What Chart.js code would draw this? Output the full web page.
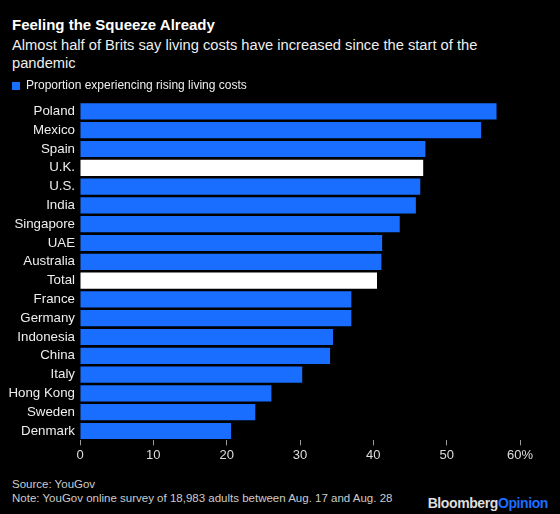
<!DOCTYPE html>
<html>
<head>
<meta charset="utf-8">
<script src="https://cdn.jsdelivr.net/npm/chart.js@4"></script>
<style>
  body { margin: 0; background: #000; width: 560px; height: 514px; overflow: hidden; font-family: "Liberation Sans", Arial, sans-serif; color: #fff; position: relative; }
  #titre { position: absolute; left: 12px; top: 16px; font-size: 15px; font-weight: bold; }
  #sousTitre { position: absolute; left: 12px; top: 36px; width: 530px; font-size: 14.7px; line-height: 18px; color: #eee; }
  #zone { position: absolute; left: 0; top: 75px; width: 560px; height: 390px; }
  #source { position: absolute; left: 12px; top: 478px; font-size: 11.5px; line-height: 13.5px; color: #ccc; }
  #logo { position: absolute; right: 12px; top: 495px; font-size: 14px; font-weight: bold; letter-spacing: -0.4px; color: #ddd; }
  #logo span { color: #1a6eff; }
</style>
</head>
<body>
<div id="titre">Feeling the Squeeze Already</div>
<div id="sousTitre">Almost half of Brits say living costs have increased since the start of the pandemic</div>
<div id="zone"><canvas id="graphique"></canvas></div>
<div id="source">Source: YouGov<br>Note: YouGov online survey of 18,983 adults between Aug. 17 and Aug. 28</div>
<div id="logo">Bloomberg<span>Opinion</span></div>
<script>
const pays = ['Poland', 'Mexico', 'Spain', 'U.K.', 'U.S.', 'India', 'Singapore', 'UAE', 'Australia', 'Total',
  'France', 'Germany', 'Indonesia', 'China', 'Italy', 'Hong Kong', 'Sweden', 'Denmark'];
const proportions = [56.8, 54.7, 47.1, 46.8, 46.4, 45.8, 43.6, 41.2, 41.1, 40.5,
  37.0, 37.0, 34.5, 34.1, 30.3, 26.1, 23.9, 20.6];
const ticksX = [0, 10, 20, 30, 40, 50, 60];
const nomSerie = 'Proportion experiencing rising living costs';

const bleu = '#1a6eff';
const couleurs = pays.map(p => (p === 'U.K.' || p === 'Total') ? '#ffffff' : bleu);

const ctx = document.getElementById('graphique').getContext('2d');

const graphique = new Chart(ctx, {
  type: 'bar',
  data: {
    labels: pays,
    datasets: [
      {
        label: nomSerie,
        data: proportions,
        backgroundColor: couleurs,
        borderWidth: 0,
        barPercentage: 0.86,
        categoryPercentage: 1,
      },
    ],
  },
  options: {
    indexAxis: 'y',
    responsive: true,
    maintainAspectRatio: false,
    animation: false,
    layout: { padding: { left: 7, right: 40, top: 0, bottom: 0 } },
    plugins: {
      tooltip: { enabled: false },
      legend: {
        align: 'start',
        labels: {
          color: '#eee',
          font: { family: 'Liberation Sans', size: 12 },
          boxWidth: 8,
          boxHeight: 8,
          padding: 5,
          generateLabels: () => [{ text: nomSerie, fillStyle: bleu, strokeStyle: bleu, lineWidth: 0, fontColor: '#eee' }],
        },
      },
    },
    scales: {
      x: {
        min: 0,
        max: 60,
        afterBuildTicks: (axe) => { axe.ticks = ticksX.map(v => ({ value: v })); },
        grid: { drawOnChartArea: false, color: '#999', tickLength: 5 },
        border: { display: false },
        ticks: {
          color: '#ddd',
          font: { family: 'Liberation Sans', size: 13 },
          padding: 2,
          callback: (v) => v === 60 ? '60%' : v,
        },
      },
      y: {
        afterFit: (axe) => { axe.width = 73; },
        grid: { display: false, drawTicks: false },
        border: { display: false },
        ticks: {
          color: '#eee',
          font: { family: 'Liberation Sans', size: 13.3 },
          padding: 5,
          autoSkip: false,
        },
      },
    },
  },
});
</script>
</body>
</html>
